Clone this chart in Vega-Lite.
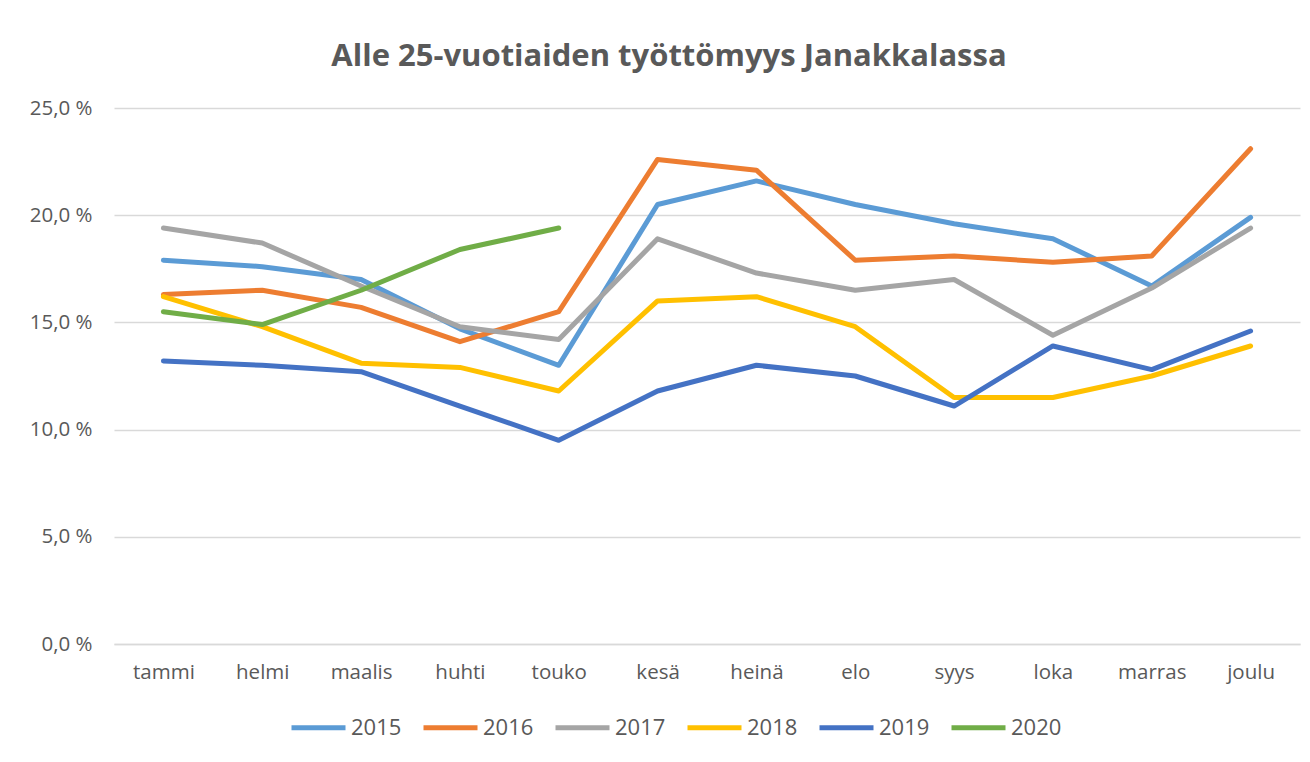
{
  "$schema": "https://vega.github.io/schema/vega-lite/v6.json",
  "autosize": "none",
  "width": 1186,
  "height": 536,
  "padding": {"left": 114, "top": 108, "right": 10, "bottom": 118},
  "background": "white",
  "title": {
    "text": "Alle 25-vuotiaiden työttömyys Janakkalassa",
    "anchor": "middle",
    "frame": "group",
    "dx": -38,
    "offset": 25,
    "font": "Open Sans",
    "fontSize": 31,
    "fontWeight": "bold",
    "color": "#595959"
  },
  "data": {
    "values": [
      {"kk": "tammi", "vuosi": "2015", "arvo": 17.9},
      {"kk": "helmi", "vuosi": "2015", "arvo": 17.6},
      {"kk": "maalis", "vuosi": "2015", "arvo": 17.0},
      {"kk": "huhti", "vuosi": "2015", "arvo": 14.7},
      {"kk": "touko", "vuosi": "2015", "arvo": 13.0},
      {"kk": "kesä", "vuosi": "2015", "arvo": 20.5},
      {"kk": "heinä", "vuosi": "2015", "arvo": 21.6},
      {"kk": "elo", "vuosi": "2015", "arvo": 20.5},
      {"kk": "syys", "vuosi": "2015", "arvo": 19.6},
      {"kk": "loka", "vuosi": "2015", "arvo": 18.9},
      {"kk": "marras", "vuosi": "2015", "arvo": 16.7},
      {"kk": "joulu", "vuosi": "2015", "arvo": 19.9},
      {"kk": "tammi", "vuosi": "2016", "arvo": 16.3},
      {"kk": "helmi", "vuosi": "2016", "arvo": 16.5},
      {"kk": "maalis", "vuosi": "2016", "arvo": 15.7},
      {"kk": "huhti", "vuosi": "2016", "arvo": 14.1},
      {"kk": "touko", "vuosi": "2016", "arvo": 15.5},
      {"kk": "kesä", "vuosi": "2016", "arvo": 22.6},
      {"kk": "heinä", "vuosi": "2016", "arvo": 22.1},
      {"kk": "elo", "vuosi": "2016", "arvo": 17.9},
      {"kk": "syys", "vuosi": "2016", "arvo": 18.1},
      {"kk": "loka", "vuosi": "2016", "arvo": 17.8},
      {"kk": "marras", "vuosi": "2016", "arvo": 18.1},
      {"kk": "joulu", "vuosi": "2016", "arvo": 23.1},
      {"kk": "tammi", "vuosi": "2017", "arvo": 19.4},
      {"kk": "helmi", "vuosi": "2017", "arvo": 18.7},
      {"kk": "maalis", "vuosi": "2017", "arvo": 16.7},
      {"kk": "huhti", "vuosi": "2017", "arvo": 14.8},
      {"kk": "touko", "vuosi": "2017", "arvo": 14.2},
      {"kk": "kesä", "vuosi": "2017", "arvo": 18.9},
      {"kk": "heinä", "vuosi": "2017", "arvo": 17.3},
      {"kk": "elo", "vuosi": "2017", "arvo": 16.5},
      {"kk": "syys", "vuosi": "2017", "arvo": 17.0},
      {"kk": "loka", "vuosi": "2017", "arvo": 14.4},
      {"kk": "marras", "vuosi": "2017", "arvo": 16.6},
      {"kk": "joulu", "vuosi": "2017", "arvo": 19.4},
      {"kk": "tammi", "vuosi": "2018", "arvo": 16.2},
      {"kk": "helmi", "vuosi": "2018", "arvo": 14.8},
      {"kk": "maalis", "vuosi": "2018", "arvo": 13.1},
      {"kk": "huhti", "vuosi": "2018", "arvo": 12.9},
      {"kk": "touko", "vuosi": "2018", "arvo": 11.8},
      {"kk": "kesä", "vuosi": "2018", "arvo": 16.0},
      {"kk": "heinä", "vuosi": "2018", "arvo": 16.2},
      {"kk": "elo", "vuosi": "2018", "arvo": 14.8},
      {"kk": "syys", "vuosi": "2018", "arvo": 11.5},
      {"kk": "loka", "vuosi": "2018", "arvo": 11.5},
      {"kk": "marras", "vuosi": "2018", "arvo": 12.5},
      {"kk": "joulu", "vuosi": "2018", "arvo": 13.9},
      {"kk": "tammi", "vuosi": "2019", "arvo": 13.2},
      {"kk": "helmi", "vuosi": "2019", "arvo": 13.0},
      {"kk": "maalis", "vuosi": "2019", "arvo": 12.7},
      {"kk": "huhti", "vuosi": "2019", "arvo": 11.1},
      {"kk": "touko", "vuosi": "2019", "arvo": 9.5},
      {"kk": "kesä", "vuosi": "2019", "arvo": 11.8},
      {"kk": "heinä", "vuosi": "2019", "arvo": 13.0},
      {"kk": "elo", "vuosi": "2019", "arvo": 12.5},
      {"kk": "syys", "vuosi": "2019", "arvo": 11.1},
      {"kk": "loka", "vuosi": "2019", "arvo": 13.9},
      {"kk": "marras", "vuosi": "2019", "arvo": 12.8},
      {"kk": "joulu", "vuosi": "2019", "arvo": 14.6},
      {"kk": "tammi", "vuosi": "2020", "arvo": 15.5},
      {"kk": "helmi", "vuosi": "2020", "arvo": 14.9},
      {"kk": "maalis", "vuosi": "2020", "arvo": 16.5},
      {"kk": "huhti", "vuosi": "2020", "arvo": 18.4},
      {"kk": "touko", "vuosi": "2020", "arvo": 19.4}
    ]
  },
  "mark": {"type": "line", "strokeWidth": 5, "strokeCap": "round", "strokeJoin": "round"},
  "encoding": {
    "x": {
      "field": "kk",
      "type": "ordinal",
      "sort": ["tammi", "helmi", "maalis", "huhti", "touko", "kesä", "heinä", "elo", "syys", "loka", "marras", "joulu"],
      "scale": {"type": "point", "padding": 0.5},
      "axis": {
        "title": null,
        "labelAngle": 0,
        "labelFont": "Open Sans",
        "labelFontSize": 20.5,
        "labelColor": "#595959",
        "labelPadding": 18,
        "ticks": false,
        "domain": true,
        "domainColor": "#d9d9d9",
        "domainWidth": 1.5,
        "grid": false
      }
    },
    "y": {
      "field": "arvo",
      "type": "quantitative",
      "scale": {"domain": [0, 25], "nice": false},
      "axis": {
        "title": null,
        "values": [0, 5, 10, 15, 20, 25],
        "labelExpr": "replace(format(datum.value, '.1f'), '.', ',') + ' %'",
        "labelFont": "Open Sans",
        "labelFontSize": 20.5,
        "labelColor": "#595959",
        "labelPadding": 22,
        "ticks": false,
        "domain": false,
        "grid": true,
        "gridColor": "#d9d9d9",
        "gridWidth": 1.5
      }
    },
    "color": {
      "field": "vuosi",
      "type": "nominal",
      "scale": {
        "domain": ["2015", "2016", "2017", "2018", "2019", "2020"],
        "range": ["#5B9BD5", "#ED7D31", "#A5A5A5", "#FFC000", "#4472C4", "#70AD47"]
      },
      "legend": {
        "title": null,
        "orient": "none",
        "legendX": 175,
        "legendY": 590,
        "direction": "horizontal",
        "columns": 6,
        "symbolType": "stroke",
        "symbolSize": 2916,
        "symbolStrokeWidth": 5,
        "labelFont": "Open Sans",
        "labelFontSize": 22,
        "labelColor": "#595959",
        "labelOffset": 3,
        "columnPadding": 11
      }
    }
  },
  "config": {"view": {"stroke": null}}
}
